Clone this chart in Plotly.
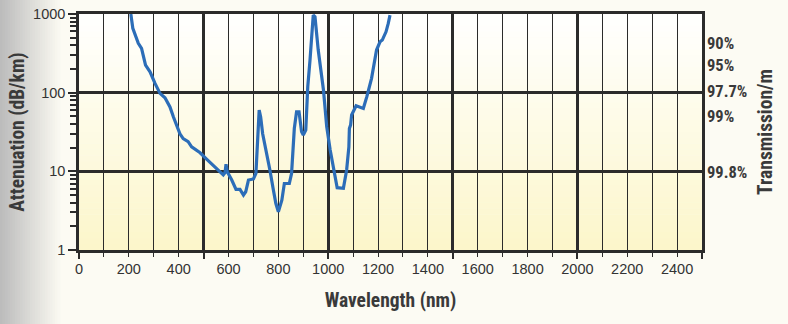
import plotly.graph_objects as go

# ---- data ----
wavelength_nm = [208, 216, 238, 251, 267, 285, 305, 325, 345, 365, 379, 405, 418, 438, 452,
                 486, 513, 539, 565, 579, 586, 590, 595, 613, 630, 646, 660, 669, 680, 700,
                 710, 723, 729, 737, 753, 766, 780, 790, 800, 814, 824, 844, 853, 864, 873,
                 883, 893, 900, 910, 918, 927, 934, 940, 947, 960, 981, 994, 1008, 1023, 1036,
                 1061, 1074, 1083, 1085, 1090, 1094, 1112, 1121, 1141, 1155, 1174, 1194, 1208,
                 1217, 1232, 1241, 1248]
attenuation_db_km = [1000, 656, 423, 366, 224, 184, 131, 98, 86, 66, 49, 30, 26, 23.8, 20.5,
                     17.2, 14.2, 11.7, 9.9, 9.0, 9.6, 12.3, 9.9, 7.75, 5.9, 5.9, 5.0, 5.5, 7.75, 8.0,
                     9.4, 60, 49, 30, 17, 10.4, 5.8, 3.9, 3.07, 4.3, 7.0, 7.0, 9.4, 35, 57,
                     57, 32, 29, 33.5, 119, 260, 566, 968, 922, 348, 108, 37, 18.7, 10.4, 6.2,
                     6.1, 10.4, 20.5, 35, 39, 52, 68, 66, 63, 89, 152, 348, 443,
                     466, 594, 759, 968]

x_tick_vals = list(range(0, 2600, 100))
x_tick_text = [str(v) if v % 200 == 0 and v <= 2400 else "" for v in x_tick_vals]
x_major_grid = [0, 500, 1000, 1500, 2000, 2500]
y_tick_vals = [1, 10, 100, 1000]
y_tick_text = ["1", "10", "100", "1000"]
y_minor_vals = [m * d for d in (1, 10, 100) for m in range(2, 10)]
trans_tick_vals = [430, 224, 103, 50, 9.8]
trans_tick_text = ["90%", "95%", "97.7%", "99%", "99.8%"]

NARROW = "Liberation Sans Narrow, Roboto Condensed, Arial Narrow, sans-serif"
REG = "Liberation Sans, Arial, Helvetica, sans-serif"
LINE = "#2b2b2b"

fig = go.Figure()
fig.add_trace(go.Scatter(x=wavelength_nm, y=attenuation_db_km, mode="lines",
                         line=dict(color="#2c6db8", width=3.2), showlegend=False,
                         hoverinfo="skip"))
fig.add_trace(go.Scatter(x=[None], y=[None], yaxis="y2", showlegend=False,
                         hoverinfo="skip", mode="lines"))

# background gradients
shapes = []
n = 40
top = (255, 255, 255)
bot = (252, 246, 202)
for i in range(n):
    t = (i + 0.5) / n
    c = tuple(round(bot[k] + (top[k] - bot[k]) * t) for k in range(3))
    shapes.append(dict(type="rect", xref="paper", yref="paper", x0=0, x1=1,
                       y0=i / n, y1=(i + 1) / n + 0.002, line=dict(width=0),
                       fillcolor="rgb(%d,%d,%d)" % c, layer="below"))
# left grey fade
W = 623.0
m = 24
g0 = (188, 188, 188)
g1 = (252, 251, 243)
for i in range(m):
    t = i / m
    c = tuple(round(g0[k] + (g1[k] - g0[k]) * t) for k in range(3))
    x0 = (-79 + i * 60.0 / m) / W
    x1 = (-79 + (i + 1) * 60.0 / m) / W + 0.001
    shapes.append(dict(type="rect", xref="paper", yref="paper", x0=x0, x1=x1,
                       y0=-0.5, y1=1.2, line=dict(width=0),
                       fillcolor="rgb(%d,%d,%d)" % c, layer="below"))

fig.update_layout(
    width=788, height=324,
    margin=dict(l=79, r=86, t=14, b=74, autoexpand=False),
    paper_bgcolor="#fcfbf3",
    plot_bgcolor="rgba(0,0,0,0)",
    shapes=shapes,
    font=dict(family=REG, color="#333333", size=14),
    xaxis=dict(
        automargin=False,
        range=[0, 2500], tickmode="array", tickvals=x_tick_vals, ticktext=x_tick_text,
        showgrid=True, gridcolor=LINE, gridwidth=1,
        ticks="outside", ticklen=4, tickwidth=1, tickcolor=LINE,
        showline=True, linecolor=LINE, linewidth=2.5, mirror=True,
        zeroline=False,
        minor=dict(tickmode="array", tickvals=x_major_grid, showgrid=True,
                   gridcolor=LINE, gridwidth=2.5, ticks="outside", ticklen=6,
                   tickwidth=2, tickcolor=LINE),
        tickfont=dict(family=REG, size=14.5, color="#333333"),
        title=dict(text="<b>Wavelength (nm)</b>", standoff=18,
                   font=dict(family=NARROW, size=19.5, color="#3a3a3a")),
    ),
    yaxis=dict(
        automargin=False,
        type="log", range=[0, 3], tickmode="array", tickvals=y_tick_vals, ticktext=y_tick_text,
        showgrid=True, gridcolor=LINE, gridwidth=2.5,
        ticks="outside", ticklen=8, tickwidth=2, tickcolor=LINE,
        showline=True, linecolor=LINE, linewidth=2.5, mirror=True,
        zeroline=False,
        minor=dict(tickmode="array", tickvals=y_minor_vals, showgrid=False,
                   ticks="outside", ticklen=6, tickwidth=1.5, tickcolor=LINE),
        tickfont=dict(family=REG, size=14.5, color="#333333"),
        title=dict(text="<b>Attenuation (dB/km)</b>", standoff=4,
                   font=dict(family=NARROW, size=19.5, color="#3a3a3a")),
    ),
    yaxis2=dict(
        automargin=False,
        type="log", range=[0, 3], overlaying="y", side="right", anchor="x",
        tickmode="array", tickvals=trans_tick_vals, ticktext=trans_tick_text,
        showgrid=False, ticks="", zeroline=False, showline=False,
        ticklabelstandoff=4,
        tickfont=dict(family=NARROW, size=16.5, color="#3a3a3a", weight="bold"),
        title=dict(text="<b>Transmission/m</b>", standoff=12,
                   font=dict(family=NARROW, size=19.5, color="#3a3a3a")),
    ),
)

fig.write_html("out.html")
